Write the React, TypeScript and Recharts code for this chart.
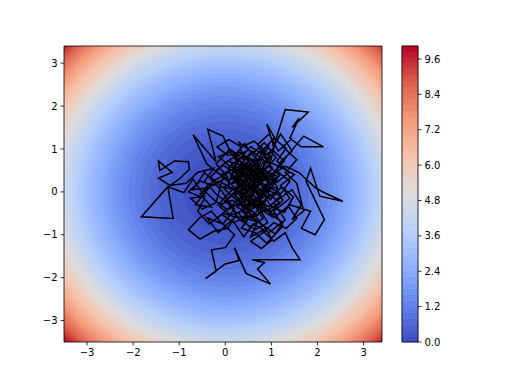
import {
  ComposedChart,
  Line,
  Scatter,
  XAxis,
  YAxis,
  ReferenceArea,
} from "recharts";

const W = 512;
const H = 384;
const FONT = "DejaVu Sans, sans-serif";

const X_DOMAIN: [number, number] = [-3.5, 3.4];
const Y_DOMAIN: [number, number] = [-3.5, 3.4];
const X_TICKS = [-3, -2, -1, 0, 1, 2, 3];
const Y_TICKS = [-3, -2, -1, 0, 1, 2, 3];
const CB_TICKS = [0, 1.2, 2.4, 3.6, 4.8, 6.0, 7.2, 8.4, 9.6];

// background field f = k * r^p, filled with 50 contour levels
const FIELD_K = 0.2535;
const FIELD_POW = 2.3;
const FIELD_MAX = 10.04;
const N_LEVELS = 50;

// random walk
const walkX = [
  0.35, 0.6, 0.2, 0.45, 0.1, 0.3, -0.05, 0.25, 0.55, 0.8, 0.65, 0.95, 0.7, 1.05, 0.85, 0.45, 0.7, 0.3, 0.1, -0.2,
  -0.45, -0.25, -0.6, -0.85, -1.2, -1.45, -1.15, -1.45, -1.42, -1.1, -0.8, -0.78, -1.0, -1.28, -1.82, -1.13, -1.25, -0.9, -0.7, -0.45,
  -0.75, -0.5, -0.2, -0.05, -0.4, -0.7, -0.2, -0.38, -0.05, 0.1, 0.35, 0.15, 0.5, 0.3, 0.65, 0.9, 0.6, 0.95, 1.1, 0.9,
  1.05, 1.3, 1.8, 1.45, 1.6, 1.4, 1.65, 2.13, 1.7, 1.35, 1.1, 1.4, 1.2, 0.8, 0.55, 0.25, 0.45, 0.2, 0.5, 0.8,
  0.6, 0.95, 1.3, 1.6, 1.95, 2.15, 2.55, 2.05, 1.85, 1.75, 2.15, 1.95, 1.65, 1.85, 1.4, 1.05, 0.75, 0.95, 0.6, 0.4,
  0.7, 0.4, 0.05, 0.3, 0.0, 0.25, 0.05, -0.25, -0.55, -0.8, -0.55, -0.3, -0.1, 0.2, 0.0, -0.3, -0.2, -0.43, 0.0, 0.3,
  0.2, 0.45, 0.98, 0.7, 0.85, 0.58, 1.62, 1.45, 1.3, 1.05, 0.8, 0.55, 0.7, 0.4, 0.6, 0.35, 0.75, 0.5, 0.85, 0.55,
  0.3, 0.6, 0.35, 0.7, 1.0, 1.2, 1.45, 1.2, 1.0, 0.8, 0.5, 0.8, 0.45, 0.2, -0.1, 0.2, 0.05, 0.4, 0.65, 0.35,
  0.65, 0.95, 0.7, 1.0, 1.25, 1.1, 0.75, 0.5, 0.2, 0.45, 0.25, 0.55, 0.85, 0.55, 0.3,
  0.62, 0.38, 0.72, 0.95, 0.68, 0.92, 1.18, 0.88, 0.52, 0.25, 0.48, 0.18, 0.42, 0.65, 0.38, 0.08, -0.22, 0.05, 0.32, 0.58,
  0.85, 0.62, 0.88, 0.58, 0.82, 0.52, 0.28, 0.55, 0.35, 0.68, 0.98, 1.22, 1.48, 1.28, 0.98, 0.78, 0.45, 0.15, -0.12, 0.12,
  0.42, 0.62, 0.32, 0.58, 0.82, 1.02, 0.78, 1.05, 1.32, 1.12, 1.38, 1.12, 0.82, 0.55, 0.28, 0.48, 0.18, -0.08, 0.22, 0.48,
  0.22, -0.05, -0.32, -0.08, 0.22, 0.52, 0.72, 0.45, 0.72, 0.98, 0.75, 0.98, 0.72, 0.98, 1.25, 1.08, 0.78, 0.58, 0.32, 0.05,
  -0.25, -0.48, -0.22, 0.08, 0.38, 0.65, 0.45, 0.18, 0.45, 0.75, 0.52, 0.85, 0.62, 0.35, 0.65, 0.92, 0.72, 0.42, 0.68, 0.38,
  0.12, 0.38, 0.15, -0.15, 0.12, 0.42, 0.72, 1.02, 1.28, 1.02, 0.75, 0.52, 0.82, 1.12, 0.92, 1.18, 0.88, 0.62, 0.35, 0.58,
  0.85, 1.12, 1.38, 1.55, 1.32, 1.05, 0.82, 0.55, 0.78, 1.02, 0.85, 0.62, 0.42, 0.18, 0.45, 0.25, 0.55, 0.32, 0.05, -0.18,
  0.08, 0.35, 0.62, 0.85, 0.62, 0.88, 0.62, 0.35, 0.62, 0.92, 1.15, 0.95, 0.68, 0.42, 0.15, 0.42, 0.72, 0.5, 0.25, 0.5,
  -0.15, -0.55, -0.3, -0.65, -0.35, -0.7, -0.45, -0.1, 0.2, -0.05, -0.4, -0.15, 0.15, 0.4, 0.6, 0.95, 1.3, 1.05, 1.45, 1.65,
  1.45, 1.7, 1.55, 1.3, 1.55, 1.25, 1.45, 1.15, 0.95, 0.7, 0.95, 1.25, 1.5, 1.2, 1.4, 1.05, 1.25, 0.9, 0.65, 0.35,
  0.55, 0.25, -0.05, -0.35, -0.6, -0.45, -0.8, -0.55, -0.25, 0.05, -0.2, 0.1, 0.4, 0.3, 0.6, 0.85, 1.1, 0.85, 1.15, 0.9,
  1.2, 0.95, 0.65, 0.4, 0.15, -0.15, 0.1, 0.35, 0.6, 0.35,
];
const walkY = [
  0.15, 0.45, 0.6, 0.95, 0.75, 0.3, 0.1, -0.2, 0.05, 0.4, 0.85, 1.1, 0.55, 0.3, -0.1, -0.35, -0.55, -0.65, -0.3, -0.05,
  0.25, 0.55, 0.45, 0.2, 0.15, 0.32, 0.45, 0.72, 0.5, 0.72, 0.7, 0.52, 0.3, 0.08, -0.58, -0.62, 0.12, -0.02, 0.3, -0.1,
  -0.15, -0.4, -0.25, 0.35, 0.65, 1.33, 0.7, 1.46, 1.3, 0.95, 0.55, 0.2, 0.3, 0.0, -0.2, 0.15, 0.3, 0.6, 1.2, 1.58,
  1.05, 1.92, 1.86, 1.5, 1.72, 1.25, 1.05, 1.05, 1.3, 0.85, 0.5, 0.25, -0.05, 0.2, 0.65, 0.4, 0.1, -0.05, -0.45, -0.25,
  0.1, 0.35, 0.6, 0.45, 0.1, -0.02, -0.22, -0.1, 0.55, 0.25, -0.65, -1.0, -0.85, -0.45, -0.3, -0.6, -0.4, -0.1, 0.0, 0.35,
  0.7, 0.85, 0.55, 0.1, -0.2, -0.5, -0.85, -0.92, -1.1, -0.88, -0.6, -0.45, -0.7, -1.0, -1.3, -1.35, -1.85, -2.02, -1.68, -1.6,
  -1.3, -1.9, -2.15, -1.8, -1.65, -1.58, -1.58, -1.3, -0.95, -1.15, -0.9, -1.05, -0.7, -0.6, -0.25, -0.1, 0.2, 0.55, 0.85, 1.05,
  0.75, 0.4, 0.25, -0.05, 0.3, 0.7, 0.95, 1.35, 0.95, 0.55, 0.2, -0.15, -0.3, 0.1, 0.4, 0.55, 0.15, -0.1, 0.25, 0.45,
  0.6, 0.25, -0.3, -0.45, -0.2, 0.1, 0.05, 0.4, 0.3, 0.0, -0.35, -0.15, 0.45, 0.75, 0.5,
  0.18, -0.12, -0.38, -0.05, 0.32, 0.62, 0.38, 0.12, -0.08, 0.22, 0.58, 0.82, 1.12, 0.78, 0.42, 0.28, 0.48, 0.72, 0.62, 0.95,
  0.72, 0.38, 0.02, -0.22, -0.62, -0.82, -0.48, -0.32, 0.02, 0.12, -0.18, 0.12, -0.12, -0.48, -0.32, 0.05, 0.25, -0.08, -0.35, -0.55,
  -0.42, -0.05, 0.35, 0.52, 0.28, 0.55, 0.92, 1.25, 1.02, 0.72, 0.45, 0.22, 0.38, 0.12, -0.18, -0.58, -0.72, -0.52, -0.25, 0.05,
  0.45, 0.62, 0.35, 0.12, 0.05, 0.32, 0.65, 0.78, 1.02, 0.82, 0.45, 0.15, -0.12, -0.52, -0.72, -0.98, -0.75, -0.45, -0.25, -0.42,
  -0.18, 0.05, 0.28, 0.45, 0.22, 0.42, 0.68, 0.52, 0.35, 0.18, -0.15, -0.28, -0.52, -0.68, -0.88, -0.72, -0.35, -0.18, 0.05, 0.15,
  0.38, 0.62, 0.95, 0.82, 0.58, 0.45, 0.22, 0.42, 0.72, 0.98, 0.75, 0.48, 0.55, 0.28, -0.02, -0.25, -0.45, -0.25, -0.45, -0.62,
  -0.42, -0.55, -0.35, -0.62, -0.85, -0.72, -0.95, -1.15, -1.32, -1.12, -0.82, -0.62, -0.32, -0.12, 0.12, 0.48, 0.65, 0.92, 0.85, 1.05,
  1.22, 1.05, 1.18, 0.98, 0.62, 0.35, 0.08, -0.05, -0.35, -0.15, 0.05, 0.48, 0.28, 0.55, 0.32, 0.08, -0.18, -0.5, -0.35, -0.1,
  0.25, -0.05, -0.35, -0.3, 0.1, 0.05, 0.45, 0.05, -0.4, -0.75, -0.6, -0.95, -0.65, -1.05, -0.75, -0.95, -0.65, -0.25, 0.05, -0.3,
  -0.65, -0.45, 0.2, 0.45, 0.75, 1.05, 1.25, 0.95, 1.35, 1.1, 0.7, 0.55, 0.4, 0.15, -0.15, -0.45, -0.8, -1.2, -0.95, -0.85,
  -0.55, -0.6, -0.5, -0.75, -0.45, -0.15, 0.0, 0.25, 0.15, 0.35, 0.65, 1.0, 0.75, 1.15, 0.9, 1.15, 0.8, 0.5, 0.35, 0.05,
  -0.1, -0.35, -0.15, -0.35, -0.2, -0.3, 0.0, 0.2, 0.5, 0.7,
];

// matplotlib coolwarm anchors
const COOLWARM = [
  [59, 76, 192], [98, 130, 234], [141, 176, 254], [184, 208, 249], [221, 221, 221],
  [245, 196, 173], [244, 154, 123], [222, 96, 77], [180, 4, 38],
];

function coolwarm(t: number) {
  const v = Math.max(0, Math.min(1, t)) * (COOLWARM.length - 1);
  const i = Math.min(Math.floor(v), COOLWARM.length - 2);
  const f = v - i;
  const a = COOLWARM[i];
  const b = COOLWARM[i + 1];
  const c = a.map((ch, k) => Math.round(ch + (b[k] - ch) * f));
  return `rgb(${c[0]},${c[1]},${c[2]})`;
}

const MARGIN = { top: 46, right: 130, bottom: 12, left: 24 };
const Y_AXIS_W = 40;
const X_AXIS_H = 30;
const PLOT_W = W - MARGIN.left - MARGIN.right - Y_AXIS_W;
const PLOT_H = H - MARGIN.top - MARGIN.bottom - X_AXIS_H;
const PX_X = PLOT_W / (X_DOMAIN[1] - X_DOMAIN[0]);
const PX_Y = PLOT_H / (Y_DOMAIN[1] - Y_DOMAIN[0]);

const step = FIELD_MAX / N_LEVELS;
const bands = Array.from({ length: N_LEVELS }, (_, i) => {
  const lo = i * step;
  const hi = (i + 1) * step;
  return { lo, hi, fill: coolwarm((lo + hi) / 2 / FIELD_MAX) };
});
// outermost first so inner rings sit on top
const rings = bands
  .map((b, i) => ({
    x: 0,
    y: 0,
    r: Math.pow(b.hi / FIELD_K, 1 / FIELD_POW) * (i === N_LEVELS - 1 ? 1.6 : 1),
    fill: b.fill,
  }))
  .reverse();

const walk = walkX.map((x, i) => ({ x, y: walkY[i] }));

const fmt = (v: number) => (v < 0 ? "\u2212" + Math.abs(v) : String(v));
const tickStyle = { fill: "#000", fontSize: 10, fontFamily: FONT };
const tickLine = { stroke: "#000", strokeWidth: 0.8 };

const Ring = (props: any) => {
  const { cx, cy, payload } = props;
  return <ellipse cx={cx} cy={cy} rx={payload.r * PX_X} ry={payload.r * PX_Y} fill={payload.fill} />;
};

const layer = { position: "absolute" as const, left: 0, top: 0 };

export default function App() {
  return (
    <div style={{ position: "absolute", left: 0, top: 0, width: W, height: H, background: "#fff" }}>
      {/* background field */}
      <div style={layer}>
        <ComposedChart width={W} height={H} data={rings} margin={MARGIN}>
          <XAxis type="number" dataKey="x" domain={X_DOMAIN} allowDataOverflow height={X_AXIS_H} tick={false} tickLine={false} axisLine={false} />
          <YAxis type="number" dataKey="y" domain={Y_DOMAIN} allowDataOverflow width={Y_AXIS_W} tick={false} tickLine={false} axisLine={false} />
          <Scatter dataKey="y" shape={Ring} isAnimationActive={false} />
        </ComposedChart>
      </div>
      {/* walk, axes and frame */}
      <div style={layer}>
        <ComposedChart width={W} height={H} data={walk} margin={MARGIN}>
          <XAxis
            type="number"
            dataKey="x"
            domain={X_DOMAIN}
            ticks={X_TICKS}
            allowDataOverflow
            height={X_AXIS_H}
            tickFormatter={fmt}
            tick={tickStyle}
            tickSize={3.5}
            tickMargin={3}
            axisLine={false}
            tickLine={tickLine}
          />
          <YAxis
            type="number"
            dataKey="y"
            domain={Y_DOMAIN}
            ticks={Y_TICKS}
            allowDataOverflow
            width={Y_AXIS_W}
            tickFormatter={fmt}
            tick={tickStyle}
            tickSize={3.5}
            tickMargin={3}
            axisLine={false}
            tickLine={tickLine}
          />
          <Line
            dataKey="y"
            stroke="#000"
            strokeWidth={1.5}
            dot={false}
            type="linear"
            isAnimationActive={false}
          />
          <ReferenceArea
            x1={X_DOMAIN[0]}
            x2={X_DOMAIN[1]}
            y1={Y_DOMAIN[0]}
            y2={Y_DOMAIN[1]}
            fill="none"
            stroke="#000"
            strokeWidth={0.8}
            strokeOpacity={1}
          />
        </ComposedChart>
      </div>
      {/* colorbar */}
      <div style={layer}>
        <ComposedChart
          width={W}
          height={H}
          data={[{ x: 0 }, { x: 1 }]}
          margin={{ top: 46, right: 54, bottom: 42, left: 402 }}
        >
          <XAxis type="number" dataKey="x" domain={[0, 1]} hide />
          <YAxis
            type="number"
            orientation="right"
            domain={[0, FIELD_MAX]}
            ticks={CB_TICKS}
            allowDataOverflow
            width={40}
            tickFormatter={(v: number) => v.toFixed(1)}
            tick={tickStyle}
            tickSize={3.5}
            tickMargin={3}
            axisLine={false}
            tickLine={tickLine}
          />
          {bands.map((b, i) => (
            <ReferenceArea key={i} y1={b.lo} y2={b.hi} fill={b.fill} fillOpacity={1} stroke={b.fill} strokeWidth={0.6} />
          ))}
          <ReferenceArea y1={0} y2={FIELD_MAX} fill="none" stroke="#000" strokeWidth={0.8} strokeOpacity={1} />
        </ComposedChart>
      </div>
    </div>
  );
}
